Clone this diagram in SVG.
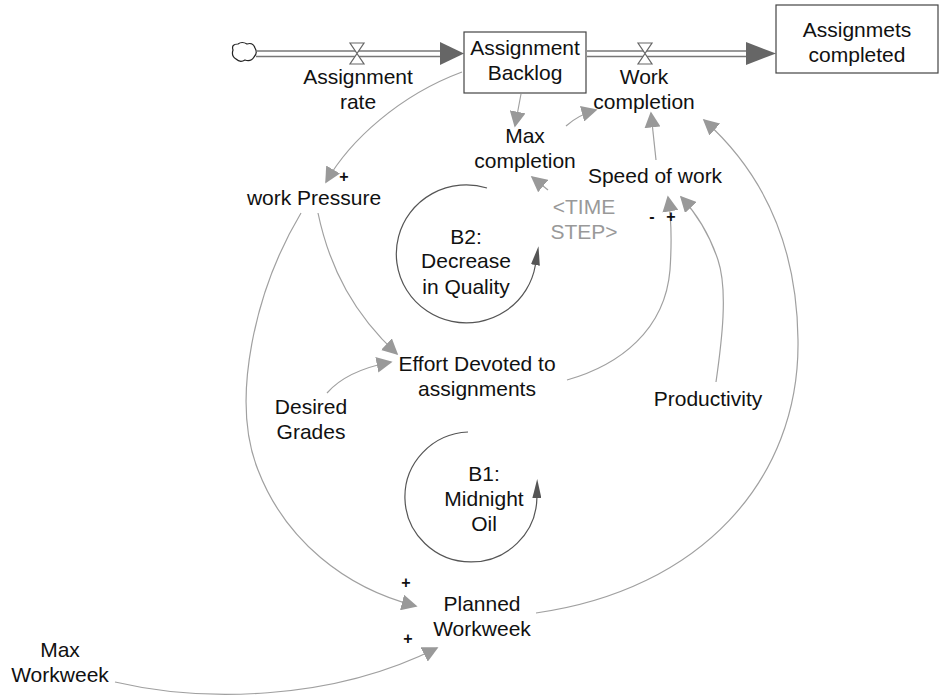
<svg xmlns="http://www.w3.org/2000/svg" width="940" height="700" viewBox="0 0 940 700">
<defs>
<style>
text{font-family:"Liberation Sans",Arial,sans-serif;font-size:21px;fill:#111;text-anchor:middle}
.g{fill:#999}
.s{font-size:16px;font-weight:bold}
.c{fill:none;stroke:#a0a0a0;stroke-width:1.2}
.loop{fill:none;stroke:#555;stroke-width:1.2}
.pipe{stroke:#777;stroke-width:1.5;fill:none}
.box{fill:#fff;stroke:#444;stroke-width:1.2}
</style>
<marker id="ah" viewBox="0 0 10 10" refX="9" refY="5" markerWidth="16" markerHeight="16" markerUnits="userSpaceOnUse" orient="auto"><path d="M0,0 L10,5 L0,10 z" fill="#999"/></marker>
<marker id="al" viewBox="0 0 10 10" refX="0" refY="5" markerWidth="19" markerHeight="9" markerUnits="userSpaceOnUse" orient="auto" preserveAspectRatio="none"><path d="M0,0 L10,5 L0,10 z" fill="#555"/></marker>
</defs>
<rect width="940" height="700" fill="#fff"/>

<g id="flows">
<path d="M233,50 q-2,-6 5,-6 q4,-3 9,0 q6,-2 8,4 q3,5 -1,9 q-3,5 -9,3 q-5,3 -9,-1 q-5,-3 -3,-9 z" fill="#fff" stroke="#222" stroke-width="1.2"/>
<line class="pipe" x1="256" y1="51" x2="442" y2="51"/>
<line class="pipe" x1="256" y1="56.5" x2="442" y2="56.5"/>
<path d="M440,42 L464,53.5 L440,65 z" fill="#666"/>
<path d="M350,43 L364,43 L357,53.5 L364,64 L350,64 L357,53.5 z" fill="#fff" stroke="#666" stroke-width="1.2"/>
<line class="pipe" x1="587" y1="51" x2="748" y2="51"/>
<line class="pipe" x1="587" y1="56.5" x2="748" y2="56.5"/>
<path d="M746,42 L776,53.5 L746,65 z" fill="#666"/>
<path d="M638,43 L652,43 L645,53.5 L652,64 L638,64 L645,53.5 z" fill="#fff" stroke="#666" stroke-width="1.2"/>
</g>

<g id="connectors">
<path class="c" d="M462,72 C400,95 350,140 326,182" marker-end="url(#ah)"/>
<path class="c" d="M521,94 L515,126" marker-end="url(#ah)"/>
<path class="c" d="M566,126 C575,118 585,113 596,110" marker-end="url(#ah)"/>
<path class="c" d="M656,160 L651,113" marker-end="url(#ah)"/>
<path class="c" d="M548,190 L532,177" marker-end="url(#ah)"/>
<path class="c" d="M536,613 C700,590 800,480 798,340 C797,240 760,170 704,120" marker-end="url(#ah)"/>
<path class="c" d="M318,213 C330,270 355,315 397,354" marker-end="url(#ah)"/>
<path class="c" d="M327,393 C340,378 360,368 391,362" marker-end="url(#ah)"/>
<path class="c" d="M567,380 C620,365 665,330 670,270 C672,240 671,215 668,197" marker-end="url(#ah)"/>
<path class="c" d="M716,382 C722,340 728,290 718,260 C708,230 695,212 681,197" marker-end="url(#ah)"/>
<path class="c" d="M301,213 C255,290 230,400 258,470 C285,540 345,588 416,606" marker-end="url(#ah)"/>
<path class="c" d="M115,682 C200,702 330,702 437,648" marker-end="url(#ah)"/>
</g>

<g id="loops">
<path class="loop" d="M487,188 A70,69 0 1 0 535.4,265" marker-end="url(#al)"/>
<path class="loop" d="M468,432 A66,65 0 1 0 536.9,498" marker-end="url(#al)"/>
</g>

<g id="assignment-backlog">
<rect class="box" x="464" y="32" width="122" height="61"/>
<text x="525" y="55">Assignment</text>
<text x="525" y="80">Backlog</text>
</g>
<g id="assignments-completed">
<rect class="box" x="776" y="5" width="162" height="68"/>
<text x="857" y="37">Assignmets</text>
<text x="857" y="62">completed</text>
</g>
<g id="assignment-rate">
<text x="358" y="84">Assignment</text>
<text x="358" y="109">rate</text>
</g>
<g id="work-completion">
<text x="644" y="84">Work</text>
<text x="644" y="109">completion</text>
</g>
<g id="max-completion">
<text x="525" y="143">Max</text>
<text x="525" y="168">completion</text>
</g>
<g id="speed-of-work">
<text x="655" y="183">Speed of work</text>
</g>
<g id="time-step">
<text x="584" y="214" class="g">&lt;TIME</text>
<text x="584" y="239" class="g">STEP&gt;</text>
</g>
<g id="work-pressure">
<text x="314" y="205">work Pressure</text>
</g>
<g id="effort">
<text x="477" y="371">Effort Devoted to</text>
<text x="477" y="396">assignments</text>
</g>
<g id="desired-grades">
<text x="311" y="414">Desired</text>
<text x="311" y="439">Grades</text>
</g>
<g id="productivity">
<text x="708" y="406">Productivity</text>
</g>
<g id="planned-workweek">
<text x="482" y="611">Planned</text>
<text x="482" y="636">Workweek</text>
</g>
<g id="max-workweek">
<text x="60" y="657">Max</text>
<text x="60" y="682">Workweek</text>
</g>
<g id="loop-b2">
<text x="466" y="244">B2:</text>
<text x="466" y="268">Decrease</text>
<text x="466" y="294">in Quality</text>
</g>
<g id="loop-b1">
<text x="484" y="481">B1:</text>
<text x="484" y="506">Midnight</text>
<text x="484" y="531">Oil</text>
</g>
<g id="polarities">
<text class="s" x="344" y="182">+</text>
<text class="s" x="652" y="222">-</text>
<text class="s" x="671" y="222">+</text>
<text class="s" x="406" y="588">+</text>
<text class="s" x="408" y="644">+</text>
</g>
</svg>
